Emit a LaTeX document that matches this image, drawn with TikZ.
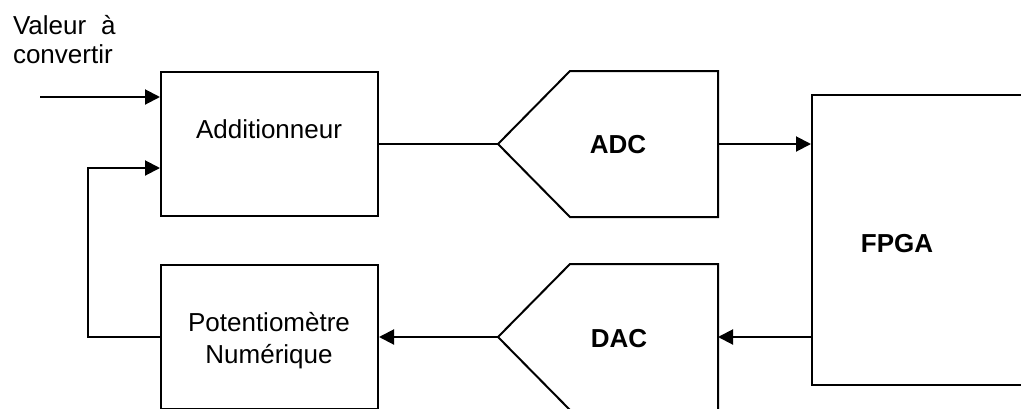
\documentclass[tikz,border=0pt]{standalone}
\usepackage{fontspec}
\setmainfont{Liberation Sans}
\usetikzlibrary{arrows.meta}
\begin{document}
\begin{tikzpicture}[x=1pt,y=-1pt,line width=2pt,line join=miter,
  blk/.style={draw,rectangle,inner sep=0pt,minimum width=217pt,minimum height=144pt},
  conv/.style={rectangle,inner sep=0pt,minimum width=218pt,minimum height=144pt},
  txt/.style={inner sep=0pt,anchor=base,font=\fontsize{26}{31}\selectfont},
  btxt/.style={txt,font=\fontsize{26}{31}\selectfont\bfseries},
  arr/.style={-{Triangle[length=15pt,width=15pt]}}]
\clip (0,0) rectangle (1021,408);
\fill[white] (0,0) rectangle (1021,408);
% blocks
\node[blk] (add) at (269.5,144) {};
\node[blk] (pot) at (269.5,337) {};
\node[conv] (adc) at (608,144) {};
\node[conv] (dac) at (608,337) {};
\node[draw,rectangle,inner sep=0pt,minimum width=218pt,minimum height=290pt] (fpga) at (921,240) {};
\draw (adc.west) -- ([xshift=72pt]adc.north west) -- (adc.north east) -- (adc.south east) -- ([xshift=72pt]adc.south west) -- cycle;
\draw (dac.west) -- ([xshift=72pt]dac.north west) -- (dac.north east) -- (dac.south east) -- ([xshift=72pt]dac.south west) -- cycle;
% texts
\node[txt] (addt) at (269,138) {Additionneur};
\node[txt] (pott1) at (269,331) {Potentiomètre};
\node[txt] (pott2) at (269,363) {Numérique};
\node[btxt] (adct) at (618,153) {ADC};
\node[btxt] (dact) at (619,347) {DAC};
\node[btxt] (fpgat) at (897,252) {FPGA};
\node[txt,anchor=base west] (val1) at (12,34) {Valeur\hspace{15pt}à};
\node[txt,anchor=base west] (val2) at (12,63) {convertir};
% connectors
\coordinate (in) at (40,97);
\coordinate (fb) at (88,168);
\draw[arr] (in) -- (in -| add.west);
\draw[arr] (pot.west) -| (fb) -- (fb -| add.west);
\draw (add.east) -- (adc.west);
\draw[arr] (adc.east) -- (adc.east -| fpga.west);
\draw[arr] (dac.east -| fpga.west) -- (dac.east);
\draw[arr] (dac.west) -- (pot.east);
\end{tikzpicture}
\end{document}
